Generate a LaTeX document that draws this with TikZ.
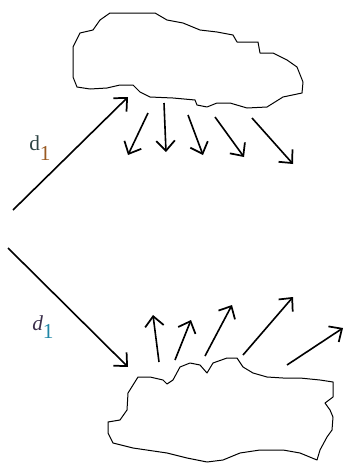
\documentclass[tikz,border=0pt]{standalone}
\usepackage{fontspec}
\setmainfont{Liberation Serif}
\usetikzlibrary{arrows.meta}
\definecolor{dinktop}{HTML}{2E4444}
\definecolor{subtop}{HTML}{9A5A22}
\definecolor{dinkbot}{HTML}{3A2E4A}
\definecolor{subbot}{HTML}{1F86A6}
\tikzset{
  cloud/.style={draw, line width=0.75pt, line join=round},
  ray/.style={-{Straight Barb[length=7.5pt,width=14pt,line width=1.3pt]}, line width=1.2pt},
  dlabel/.style={font=\fontsize{16}{17}\selectfont, inner sep=0pt, anchor=base west}
}

\begin{document}
\begin{tikzpicture}[x=0.75pt, y=-0.75pt]
  \useasboundingbox (0,0) rectangle (345,464);

  % upper cloud
  \draw[cloud] (110,13) -- (155,13) -- (167,20) -- (183,23) -- (200,30) -- (217,32)
    -- (233,35) -- (237,42) -- (258,42) -- (260,53) -- (273,53) -- (287,60)
    -- (297,67) -- (303,82) -- (302,93) -- (283,97) -- (267,107) -- (247,108)
    -- (230,103) -- (217,103) -- (207,107) -- (197,105) -- (195,100) -- (173,98)
    -- (150,97) -- (140,92) -- (133,85) -- (120,85) -- (107,88) -- (90,89)
    -- (77,87) -- (73,77) -- (73,47) -- (80,33) -- (93,30) -- (100,20) -- cycle;

  % lower cloud
  \draw[cloud] (138,377) -- (150,377) -- (163,380) -- (167,384) -- (173,380)
    -- (180,367) -- (190,363) -- (200,365) -- (207,373) -- (213,363) -- (227,358)
    -- (237,358) -- (243,367) -- (253,373) -- (267,377) -- (283,378) -- (300,378)
    -- (320,380) -- (333,382) -- (333,397) -- (325,403) -- (330,410) -- (333,417)
    -- (332,430) -- (327,437) -- (320,450) -- (317,460) -- (300,453) -- (283,450)
    -- (260,450) -- (240,453) -- (223,460) -- (207,462) -- (187,458) -- (167,453)
    -- (133,448) -- (113,443) -- (108,433) -- (108,422) -- (120,420) -- (127,410)
    -- (128,393) -- (133,385) -- cycle;

  % incoming rays
  \coordinate (srcA) at (13,210);
  \coordinate (hitA) at (128,97);
  \coordinate (srcB) at (8,248);
  \coordinate (hitB) at (128,367);
  \draw[ray] (srcA) -- (hitA);
  \draw[ray] (srcB) -- (hitB);

  \node[dlabel] (dA) at (29,150) {\color{dinktop}d\raisebox{-7.5pt}{\color{subtop}1}};
  \node[dlabel] (dB) at (32,330) {\color{dinkbot}\itshape d\raisebox{-6pt}{\upshape\color{subbot}1}};

  % scattered rays
  \foreach \x/\y/\u/\v [count=\i] in {148/113/128/155, 164/103/166/152,
      188/115/203/155, 215/117/244/157, 252/118/293/164} {
    \coordinate (outA\i) at (\x,\y);
    \coordinate (endA\i) at (\u,\v);
    \draw[ray] (outA\i) -- (endA\i);
  }
  \foreach \x/\y/\u/\v [count=\i] in {159/362/153/315, 175/360/191/320,
      205/356/232/305, 243/355/293/297, 287/365/343/328} {
    \coordinate (outB\i) at (\x,\y);
    \coordinate (endB\i) at (\u,\v);
    \draw[ray] (outB\i) -- (endB\i);
  }
\end{tikzpicture}
\end{document}
